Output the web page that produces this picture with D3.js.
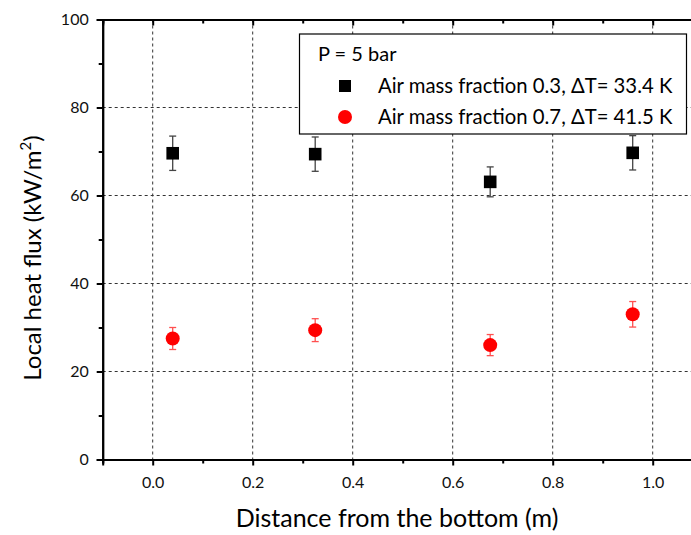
<!DOCTYPE html>
<html><head><meta charset="utf-8">
<script src="https://cdn.jsdelivr.net/npm/d3@7"></script>
<style>body{margin:0;background:#fff}svg{display:block}text{font-family:Lato,"Open Sans",sans-serif}</style>
</head><body><svg id="c" width="691" height="535"></svg>
<script>
const xTicks = [0.0, 0.2, 0.4, 0.6, 0.8, 1.0];
const yTicks = [0, 20, 40, 60, 80, 100];
const s1x = [0.04, 0.325, 0.675, 0.96];
const s1y = [69.6, 69.4, 63.1, 69.7];
const s1err = [3.9, 3.9, 3.4, 3.9];
const s2x = [0.04, 0.325, 0.675, 0.96];
const s2y = [27.5, 29.4, 26.0, 33.0];
const s2err = [2.5, 2.6, 2.4, 2.9];
const legendTitle = "P = 5 bar";
const legendLabels = ["Air mass fraction 0.3, \u0394T= 33.4 K", "Air mass fraction 0.7, \u0394T= 41.5 K"];

const svg = d3.select("#c");
const L = 102.7, R = 702.7, T = 19.5, B = 459.5;
const x = d3.scaleLinear().domain([-0.1, 1.1]).range([L, R]);
const y = d3.scaleLinear().domain([0, 100]).range([B, T]);

// grid
const g = svg.append("g");
g.selectAll(".vg").data(xTicks).enter().append("line")
  .attr("x1", d => x(d)).attr("x2", d => x(d)).attr("y1", T).attr("y2", B)
  .attr("stroke", "#333").attr("stroke-width", 1).attr("stroke-dasharray", "3,3");
g.selectAll(".hg").data(yTicks.filter(d => d > 0 && d < 100)).enter().append("line")
  .attr("x1", L).attr("x2", R).attr("y1", d => y(d)).attr("y2", d => y(d))
  .attr("stroke", "#333").attr("stroke-width", 1).attr("stroke-dasharray", "3,3");

// axes
const minorX = d3.range(-0.1, 1.11, 0.1).map(v => +v.toFixed(2))
  .filter(v => !xTicks.some(t => Math.abs(t - v) < 1e-6));
const minorY = d3.range(10, 100, 20);
const ax = svg.append("g").attr("transform", `translate(0,${B})`)
  .call(d3.axisBottom(x).tickValues(xTicks).tickFormat(d3.format(".1f")).tickSize(6).tickPadding(11));
const axm = svg.append("g").attr("transform", `translate(0,${B})`)
  .call(d3.axisBottom(x).tickValues(minorX).tickFormat("").tickSize(4));
const at = svg.append("g").attr("transform", `translate(0,${T})`)
  .call(d3.axisBottom(x).tickValues(xTicks).tickFormat("").tickSize(6));
const atm = svg.append("g").attr("transform", `translate(0,${T})`)
  .call(d3.axisBottom(x).tickValues(minorX).tickFormat("").tickSize(4));
const ay = svg.append("g").attr("transform", `translate(${L},0)`)
  .call(d3.axisLeft(y).tickValues(yTicks).tickSize(6).tickPadding(8));
const aym = svg.append("g").attr("transform", `translate(${L},0)`)
  .call(d3.axisLeft(y).tickValues(minorY).tickFormat("").tickSize(4));
[ax, axm, at, atm, ay, aym].forEach(a => {
  a.select(".domain").attr("stroke", "#000").attr("stroke-width", 2);
  a.selectAll(".tick line").attr("stroke", "#000").attr("stroke-width", 2);
  a.selectAll("text").attr("font-size", 16).attr("fill", "#111").style("font-family", "Lato,'Open Sans',sans-serif");
});

// error bars + markers
function series(xs, ys, es, color, errColor, shape) {
  const data = xs.map((v, i) => ({x: v, y: ys[i], e: es[i]}));
  const eg = svg.append("g");
  eg.selectAll(".ev").data(data).enter().append("line")
    .attr("x1", d => x(d.x)).attr("x2", d => x(d.x))
    .attr("y1", d => y(d.y + d.e)).attr("y2", d => y(d.y - d.e))
    .attr("stroke", errColor).attr("stroke-width", 1.3);
  [1, -1].forEach(sg => {
    eg.selectAll(".ec" + sg).data(data).enter().append("line")
      .attr("x1", d => x(d.x) - 3.5).attr("x2", d => x(d.x) + 3.5)
      .attr("y1", d => y(d.y + sg * d.e)).attr("y2", d => y(d.y + sg * d.e))
      .attr("stroke", errColor).attr("stroke-width", 1.3);
  });
  if (shape === "square") {
    eg.selectAll(".m").data(data).enter().append("rect")
      .attr("x", d => x(d.x) - 6.3).attr("y", d => y(d.y) - 6.3)
      .attr("width", 12.6).attr("height", 12.6).attr("fill", color);
  } else {
    eg.selectAll(".m").data(data).enter().append("circle")
      .attr("cx", d => x(d.x)).attr("cy", d => y(d.y)).attr("r", 7).attr("fill", color);
  }
}
series(s1x, s1y, s1err, "#000", "#444", "square");
series(s2x, s2y, s2err, "#ff0000", "#ff5050", "circle");

// legend
const lg = svg.append("g");
lg.append("rect").attr("x", 299.5).attr("y", 34).attr("width", 387).attr("height", 100)
  .attr("fill", "#fff").attr("stroke", "#000").attr("stroke-width", 1.2);
lg.append("text").attr("x", 318).attr("y", 61).attr("font-size", 20).text(legendTitle);
lg.append("rect").attr("x", 339).attr("y", 80).attr("width", 12).attr("height", 12).attr("fill", "#000");
lg.append("circle").attr("cx", 345).attr("cy", 117).attr("r", 7).attr("fill", "#ff0000");
legendLabels.forEach((t, i) => {
  lg.append("text").attr("x", 378).attr("y", 93 + i * 31).attr("font-size", 20.3).text(t);
});

// titles
svg.append("text").attr("x", 397).attr("y", 527).attr("text-anchor", "middle")
  .attr("font-size", 25).text("Distance from the bottom (m)");
const yt = svg.append("text").attr("transform", "translate(41,258) rotate(-90)")
  .attr("text-anchor", "middle").attr("font-size", 24);
yt.append("tspan").text("Local heat flux (kW/m");
yt.append("tspan").attr("font-size", 15).attr("dy", -10).text("2");
yt.append("tspan").attr("dy", 10).text(")");
</script></body></html>
